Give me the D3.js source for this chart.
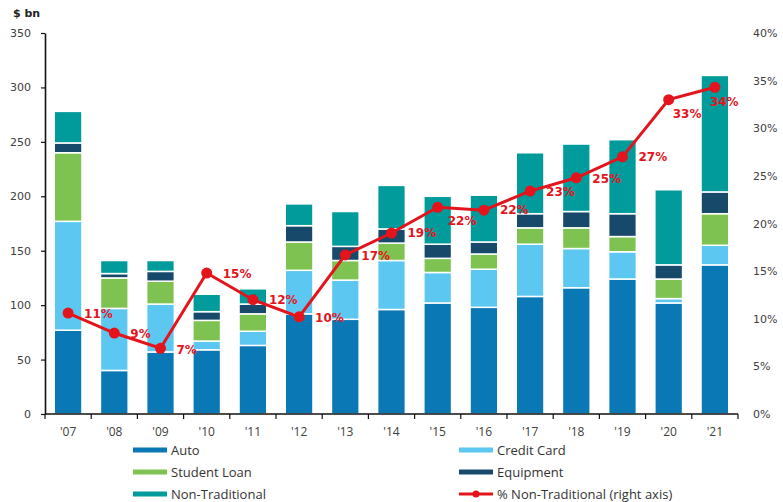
<!DOCTYPE html>
<html>
<head>
<meta charset="utf-8">
<script src="https://cdn.jsdelivr.net/npm/d3@7"></script>
<style>
  body { margin: 0; background: #fff; }
  .axis text { font-family: "DejaVu Sans", Verdana, sans-serif; font-size: 11px; fill: #404040; }
  .x-axis text { font-family: "Open Sans", sans-serif; font-size: 12px; fill: #404040; }
  .legend text { font-family: "Open Sans", sans-serif; font-size: 13px; fill: #333; }
  .pct-label { font-family: "DejaVu Sans", Verdana, sans-serif; font-size: 12px; font-weight: bold; fill: #e3141c; }
</style>
</head>
<body>
<div id="chart"></div>
<script>

// Data ($ bn by year, plus share of non-traditional lending)
var years = ["'07", "'08", "'09", "'10", "'11", "'12", "'13", "'14", "'15", "'16", "'17", "'18", "'19", "'20", "'21"];
var auto           = [77, 40, 57, 59, 63, 92, 87, 96, 102, 98, 108, 116, 124, 102, 137];
var creditCard     = [100, 57, 44, 8, 13, 40, 36, 45, 28, 35, 48, 36, 25, 4, 18];
var studentLoan    = [63, 28, 21, 19, 16, 26, 18, 16, 13, 14, 15, 19, 14, 18, 29];
var equipment      = [9, 4, 9, 8, 9, 15, 13, 13, 13, 11, 13, 15, 21, 13, 20];
var nonTraditional = [29, 12, 10, 16, 14, 20, 32, 40, 44, 43, 56, 62, 68, 69, 107];
var pctNonTrad     = [10.6, 8.5, 6.9, 14.8, 12.0, 10.2, 16.7, 19.0, 21.7, 21.4, 23.4, 24.8, 27.0, 33.0, 34.3];
var pctLabels      = ["11%", "9%", "7%", "15%", "12%", "10%", "17%", "19%", "22%", "22%", "23%", "25%", "27%", "33%", "34%"];
var leftTicks  = [0, 50, 100, 150, 200, 250, 300, 350];
var rightTicks = [0, 0.05, 0.10, 0.15, 0.20, 0.25, 0.30, 0.35, 0.40];

var seriesNames = ["Auto", "Credit Card", "Student Loan", "Equipment", "Non-Traditional"];
var seriesColors = ["#0a78b4", "#5cc7f0", "#7ec352", "#174a6a", "#009b9a"];
var lineName = "% Non-Traditional (right axis)";
var lineColor = "#e3141c";

// label nudges for the percentage labels (layout only)
var labelDx = [16, 16, 16, 16, 16, 16, 16, 16, 10, 16, 16, 16, 16, 4, -5];
var labelDy = [1, 1, 2, 1, 0, 1, 1, 0, 13, 0, 1, 1, 0, 14, 15];

var W = 783, H = 502;
var margin = {top: 33, left: 45, right: 738, bottom: 414};

var svg = d3.select("#chart").append("svg")
    .attr("width", W)
    .attr("height", H);

// table for stacking
var table = years.map(function(y, i) {
    return {year: y, "Auto": auto[i], "Credit Card": creditCard[i], "Student Loan": studentLoan[i],
            "Equipment": equipment[i], "Non-Traditional": nonTraditional[i], pct: pctNonTrad[i] / 100, label: pctLabels[i]};
});

var x = d3.scaleBand()
    .domain(years)
    .range([margin.left, margin.right])
    .paddingInner(0.4)
    .paddingOuter(0.2);
var y = d3.scaleLinear().domain([0, 350]).range([margin.bottom, margin.top]);
var y2 = d3.scaleLinear().domain([0, 0.40]).range([margin.bottom, margin.top]);

var stack = d3.stack().keys(seriesNames);
var stacked = stack(table);

// bars
svg.append("g").selectAll("g")
    .data(stacked)
    .enter().append("g")
    .attr("fill", function(d, i) { return seriesColors[i]; })
    .selectAll("rect")
    .data(function(d) { return d; })
    .enter().append("rect")
    .attr("x", function(d) { return x(d.data.year); })
    .attr("width", x.bandwidth())
    .attr("y", function(d) { return y(d[1]); })
    .attr("height", function(d) { return y(d[0]) - y(d[1]); })
    .attr("stroke", "#fff")
    .attr("stroke-width", 1.5);

// left axis
var yAxis = d3.axisLeft(y).tickValues(leftTicks).tickSize(4).tickSizeOuter(0).tickPadding(10);
var gy = svg.append("g")
    .attr("class", "axis y-axis")
    .attr("transform", "translate(" + margin.left + ",0)")
    .call(yAxis);
gy.select(".domain").attr("stroke", "#111").attr("stroke-width", 1.6);
gy.selectAll(".tick line").attr("stroke", "#111").attr("stroke-width", 1.2);

// right axis (labels only)
var yAxis2 = d3.axisRight(y2).tickValues(rightTicks).tickFormat(d3.format(".0%")).tickSize(0).tickPadding(15);
var gy2 = svg.append("g")
    .attr("class", "axis y2-axis")
    .attr("transform", "translate(" + margin.right + ",0)")
    .call(yAxis2);
gy2.select(".domain").remove();

// bottom axis: labels centred under bars, ticks on category boundaries
var xAxis = d3.axisBottom(x).tickSize(0).tickPadding(13);
var gx = svg.append("g")
    .attr("class", "axis x-axis")
    .attr("transform", "translate(0," + margin.bottom + ")")
    .call(xAxis);
gx.select(".domain").remove();
gx.append("line")
    .attr("x1", margin.left).attr("x2", margin.right)
    .attr("stroke", "#111").attr("stroke-width", 1.6);
var boundaries = d3.range(years.length + 1).map(function(i) { return margin.left + i * x.step(); });
gx.selectAll(".bound")
    .data(boundaries)
    .enter().append("line")
    .attr("class", "bound")
    .attr("x1", function(d) { return d; }).attr("x2", function(d) { return d; })
    .attr("y1", 0).attr("y2", 5)
    .attr("stroke", "#111").attr("stroke-width", 1.2);

// line on right axis
var line = d3.line()
    .x(function(d) { return x(d.year) + x.bandwidth() / 2; })
    .y(function(d) { return y2(d.pct); });
svg.append("path")
    .datum(table)
    .attr("fill", "none")
    .attr("stroke", lineColor)
    .attr("stroke-width", 3)
    .attr("d", line);
svg.selectAll(".dot")
    .data(table)
    .enter().append("circle")
    .attr("class", "dot")
    .attr("cx", function(d) { return x(d.year) + x.bandwidth() / 2; })
    .attr("cy", function(d) { return y2(d.pct); })
    .attr("r", 5.5)
    .attr("fill", lineColor);
svg.selectAll(".pct-label")
    .data(table)
    .enter().append("text")
    .attr("class", "pct-label")
    .attr("x", function(d, i) { return x(d.year) + x.bandwidth() / 2 + labelDx[i]; })
    .attr("y", function(d, i) { return y2(d.pct) + labelDy[i]; })
    .attr("dy", "0.35em")
    .text(function(d) { return d.label; });

// axis title
svg.append("text")
    .attr("x", 13).attr("y", 17)
    .style("font-family", "DejaVu Sans, Verdana, sans-serif")
    .style("font-size", "11px")
    .style("font-weight", "bold")
    .style("fill", "#222")
    .text("$ bn");

// legend
var legendItems = seriesNames.map(function(n, i) { return {name: n, color: seriesColors[i], isLine: false}; });
legendItems.push({name: lineName, color: lineColor, isLine: true});
var colX = [133, 459], rowY = [450, 472, 494];
var legend = svg.append("g").attr("class", "legend");
var items = legend.selectAll("g")
    .data(legendItems)
    .enter().append("g")
    .attr("transform", function(d, i) { return "translate(" + colX[i % 2] + "," + rowY[Math.floor(i / 2)] + ")"; });
items.append("rect")
    .attr("x", 0).attr("y", function(d) { return d.isLine ? -1.5 : -2.5; })
    .attr("width", 34).attr("height", function(d) { return d.isLine ? 3 : 5; })
    .attr("fill", function(d) { return d.color; });
items.filter(function(d) { return d.isLine; })
    .append("circle")
    .attr("cx", 17).attr("cy", 0).attr("r", 3.5)
    .attr("fill", lineColor);
items.append("text")
    .attr("x", 38)
    .attr("dy", "0.35em")
    .text(function(d) { return d.name; });

</script>
</body>
</html>
